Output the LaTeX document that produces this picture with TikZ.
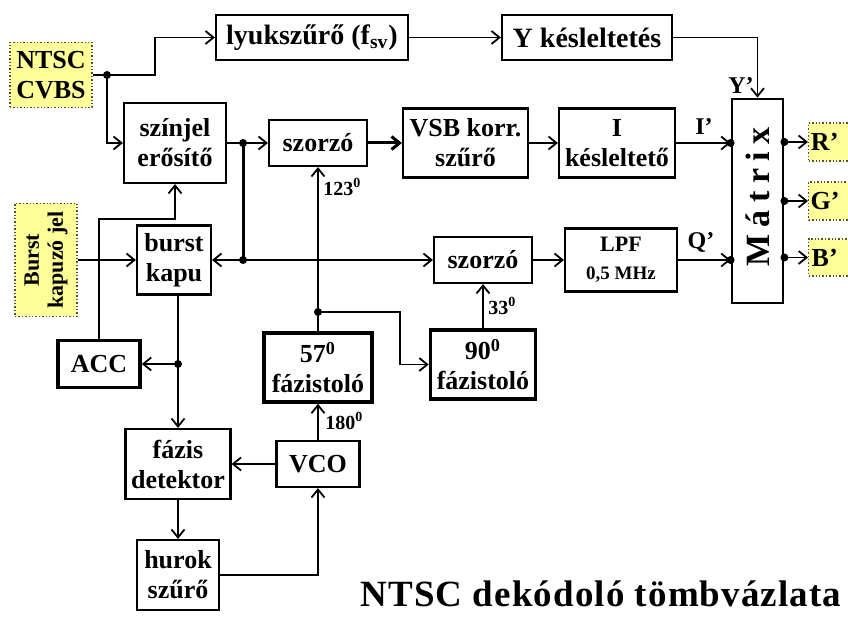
\documentclass[tikz,border=0pt]{standalone}
\usepackage{fontspec}
\setmainfont{Liberation Serif}
\usetikzlibrary{arrows.meta,positioning,calc}
\definecolor{srcbg}{RGB}{255,255,153}
\definecolor{srcline}{RGB}{80,80,60}
\tikzset{
  >={Straight Barb[length=4pt,width=6.5pt]},
  block/.style={
    draw=black, line width=1.1pt, fill=white, align=center, inner sep=1pt,
    font=\fontsize{13}{15}\selectfont\bfseries},
  bigblock/.style={block, font=\fontsize{14}{16}\selectfont\bfseries},
  thickblock/.style={block, line width=1.8pt},
  srcblock/.style={
    draw=srcline, densely dotted, line width=0.7pt, fill=srcbg, align=center,
    inner sep=1pt, font=\fontsize{13}{15}\selectfont\bfseries},
  % connectors
  wire/.style={line width=0.9pt},
  fatwire/.style={line width=1.5pt},
  jn/.style={circle, fill=black, inner sep=0pt, minimum size=4pt},
  anglbl/.style={font=\fontsize{10}{11}\selectfont\bfseries, inner sep=1pt},
  siglbl/.style={font=\fontsize{12}{13}\selectfont\bfseries, inner sep=1pt},
}

\begin{document}
\begin{tikzpicture}[x=0.5pt, y=-0.5pt]
\useasboundingbox (0,0) rectangle (848,619);

% ---------- sources ----------
\node[srcblock, minimum width=41pt, minimum height=32.5pt] (nts) at (51,75) {NTSC\\CVBS};
\node[srcblock, minimum width=31pt, minimum height=56.5pt] (burst) at (46,260) {};
\node[rotate=90, align=center, font=\fontsize{11}{12}\selectfont\bfseries] (bursttxt) at (burst.center) {Burst\\kapuzó jel};

% ---------- luminance path ----------
\node[bigblock, minimum width=96pt, minimum height=22.5pt] (lyuk) at (312,37.5) {lyukszűrő (f\textsubscript{sv})};
\node[bigblock, minimum width=85pt, minimum height=22.5pt] (ykes) at (587,37.5) {Y késleltetés};

% ---------- chroma path ----------
\node[block, minimum width=51pt, minimum height=40pt] (szin) at (175,143) {színjel\\erősítő};
\node[block, minimum width=49pt, minimum height=23pt] (sz1) at (318,143) {szorzó};
\node[block, minimum width=62.5pt, minimum height=34.5pt] (vsb) at (465.5,143) {VSB korr.\\szűrő};
\node[block, minimum width=58pt, minimum height=34.5pt] (ikes) at (617,143) {I\\késleltető};
\node[block, minimum width=37pt, minimum height=34.5pt] (bk) at (174,260) {burst\\kapu};
\node[block, minimum width=49pt, minimum height=23pt] (sz2) at (483,260) {szorzó};
\node[block, minimum width=56pt, minimum height=31.5pt] (lpf) at (621,260)
  {{\fontsize{11}{12}\selectfont LPF}\\[-1pt] {\fontsize{9.5}{10}\selectfont 0,5 MHz}};

% ---------- PLL ----------
\node[thickblock, minimum width=41pt, minimum height=23.5pt] (acc) at (99,364) {ACC};
\node[thickblock, minimum width=54pt, minimum height=34.5pt] (f57) at (318,367.5) {57\textsuperscript{0}\\fázistoló};
\node[thickblock, minimum width=52.5pt, minimum height=34.5pt] (f90) at (483,364.5) {90\textsuperscript{0}\\fázistoló};
\node[block, minimum width=52.5pt, minimum height=35pt] (fd) at (178,464) {fázis\\detektor};
\node[block, minimum width=41.5pt, minimum height=23pt] (vco) at (318,464) {VCO};
\node[block, minimum width=41pt, minimum height=35pt] (hs) at (178,575) {hurok\\szűrő};

% ---------- matrix and outputs ----------
\node[block, line width=1.4pt, minimum width=25.5pt, minimum height=102pt] (mtx) at (757.5,201) {};
\node[rotate=90, font=\fontsize{17}{18}\selectfont\bfseries\addfontfeature{LetterSpace=22}] (mtxtxt) at (757.5,197) {Mátrix};
\node[srcblock, anchor=west, minimum width=24pt, minimum height=19pt] (rr) at (808,142) {R'\hspace{8pt}};
\node[srcblock, anchor=west, minimum width=24pt, minimum height=19pt] (gg) at (808,201) {G'\hspace{8pt}};
\node[srcblock, anchor=west, minimum width=24pt, minimum height=18.5pt] (bb) at (808,257.5) {B'\hspace{8pt}};

\node[font=\fontsize{18.5}{20}\selectfont\bfseries\addfontfeature{LetterSpace=3}] (ttl) at (601,594) {NTSC dekódoló tömbvázlata};

% ---------- junction points ----------
\coordinate (j1) at (107,75);
\coordinate (k1) at (155,75);
\coordinate (j2) at (243,143);
\coordinate (j3) at (243,260);
\coordinate (j4) at (318,312);
\coordinate (k4) at (400,312);
\coordinate (j5) at (178,364);
\coordinate (k6) at (99,219);

% ---------- connectors ----------
\draw[wire] (nts.east) -- (j1);
\draw[wire,->] (j1) -- (k1) |- (lyuk.west);
\draw[wire,->] (j1) |- (szin.west);
\draw[wire,->] (lyuk) -- (ykes);
\draw[wire,->] (ykes.east) -| (mtx.north);

\draw[wire] (szin.east) -- (j2);
\draw[wire,->] (j2) -- (sz1.west);
\draw[fatwire,->] (sz1) -- (vsb);
\draw[wire,->] (vsb) -- (ikes);
\draw[wire,->] (ikes.east) -- (mtx.west |- ikes.east);
\draw[fatwire] (j2) -- (j3);
\draw[wire,->] (j3) -- (bk.east);
\draw[wire,->] (j3) -- (sz2.west);
\draw[wire,->] (burst.east) -- (bk.west);
\draw[wire,->] (sz2) -- (lpf);
\draw[wire,->] (lpf.east) -- (mtx.west |- lpf.east);

\draw[wire,->] (j4) -- (sz1.south);
\draw[wire] (f57.north) -- (j4);
\draw[wire,->] (j4) -- (k4) |- (f90.west);
\draw[wire,->] (f90.north) -- (sz2.south);
\draw[wire,->] (vco.north) -- (f57.south);
\draw[wire,->] (vco.west) -- (fd.east);

\draw[wire] (j5 |- bk.south) -- (j5);
\draw[wire,->] (j5) -- (acc.east);
\draw[wire,->] (j5) -- (fd.north);
\draw[wire,->] (fd.south) -- (hs.north);
\draw[wire,->] (hs.east) -| (vco.south);
\draw[wire,->] (acc.north) -- (k6) -| (szin.south);

\draw[wire,->] (mtx.east |- rr.west) -- (rr.west);
\draw[wire,->] (mtx.east |- gg.west) -- (gg.west);
\draw[wire,->] (mtx.east |- bb.west) -- (bb.west);

% ---------- dots ----------
\foreach \p in {j1,j2,j3,j4,j5}
  \node[jn] at (\p) {};
\node[jn] at (mtx.west |- ikes.east) {};
\node[jn] at (mtx.west |- lpf.east) {};
\node[jn] at (mtx.east |- rr.west) {};
\node[jn] at (mtx.east |- gg.west) {};
\node[jn] at (mtx.east |- bb.west) {};

% ---------- labels ----------
\node[anglbl, anchor=west] (l123) at (321,187) {123\textsuperscript{0}};
\node[anglbl, anchor=west] (l33) at (486,306) {33\textsuperscript{0}};
\node[anglbl, anchor=west] (l180) at (323,421) {180\textsuperscript{0}};
\node[siglbl] (ly) at (741,86) {Y'};
\node[siglbl] (li) at (704,127) {I'};
\node[siglbl] (lq) at (701,242) {Q'};

\end{tikzpicture}
\end{document}
